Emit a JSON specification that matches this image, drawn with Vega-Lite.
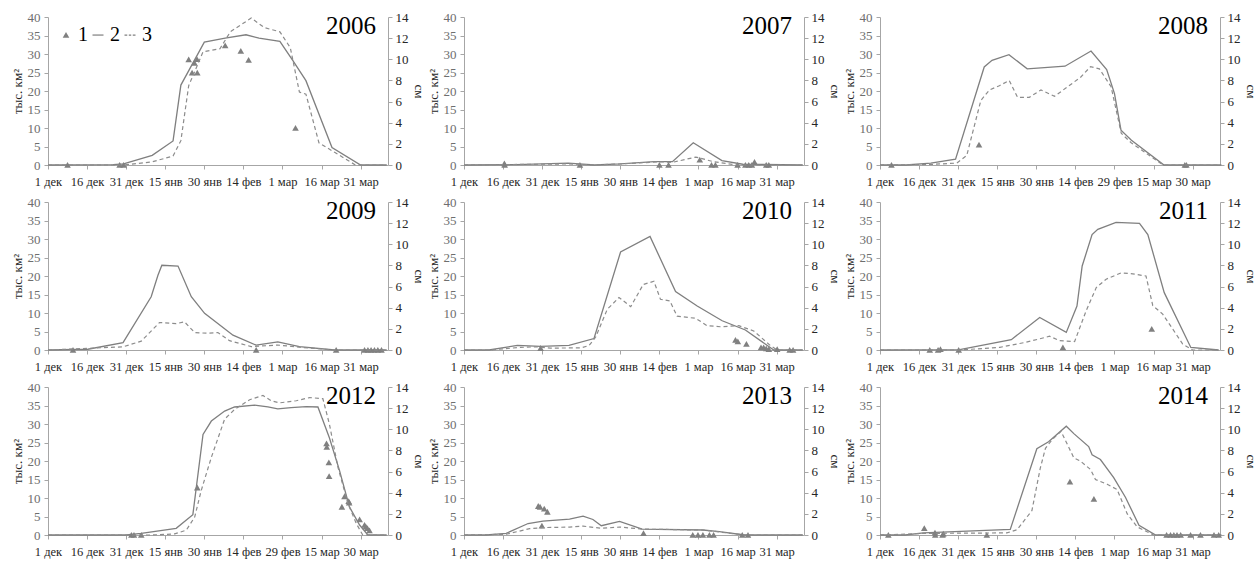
{
"$schema": "https://vega.github.io/schema/vega-lite/v6.json",
"padding": {"left": 11, "top": 11, "right": 5, "bottom": 5},
"background": "white",
"columns": 3,
"spacing": {"row": 37, "column": 76},
"bounds": "flush",
"resolve": {"scale": {"shape": "independent"}, "legend": {"shape": "independent"}},
"config": {
  "view": {"stroke": null},
  "font": "Liberation Serif",
  "style": {"guide-label": {"font": "Liberation Serif"}, "guide-title": {"font": "Liberation Serif"}},
  "axis": {"grid": false, "domainColor": "#a6a6a6", "tickColor": "#a6a6a6", "tickSize": 4, "labelFont": "Liberation Serif", "labelFontSize": 13, "labelColor": "#404040", "titleFont": "Liberation Serif", "titleFontSize": 13, "titleFontWeight": "normal", "titleColor": "#262626", "labelPadding": 4, "titlePadding": 3},
  "title": {"anchor": "end", "frame": "group", "offset": -28, "fontSize": 25, "fontWeight": "normal", "font": "Liberation Serif", "color": "#000000", "dx": -12}
},
"datasets": {"d": [
{"year":2006,"s":"2","day":0,"v":0},{"year":2006,"s":"2","day":25,"v":0.1},{"year":2006,"s":"2","day":29,"v":0.3},{"year":2006,"s":"2","day":40,"v":2.6},{"year":2006,"s":"2","day":48,"v":6.5},{"year":2006,"s":"2","day":51,"v":21.6},{"year":2006,"s":"2","day":60,"v":33.2},{"year":2006,"s":"2","day":68,"v":34.3},{"year":2006,"s":"2","day":76,"v":35.2},{"year":2006,"s":"2","day":81,"v":34.3},{"year":2006,"s":"2","day":89,"v":33.4},{"year":2006,"s":"2","day":94,"v":28.2},{"year":2006,"s":"2","day":99,"v":22.8},{"year":2006,"s":"2","day":109,"v":4.7},{"year":2006,"s":"2","day":120,"v":0},{"year":2006,"s":"2","day":130,"v":0},
{"year":2006,"s":"3","day":0,"v":0},{"year":2006,"s":"3","day":29,"v":0},{"year":2006,"s":"3","day":40,"v":0.3},{"year":2006,"s":"3","day":48,"v":0.85},{"year":2006,"s":"3","day":51,"v":2.3},{"year":2006,"s":"3","day":54,"v":7.5},{"year":2006,"s":"3","day":59.5,"v":10.7},{"year":2006,"s":"3","day":66,"v":11},{"year":2006,"s":"3","day":70,"v":12.6},{"year":2006,"s":"3","day":78,"v":13.9},{"year":2006,"s":"3","day":83,"v":13},{"year":2006,"s":"3","day":89,"v":12.6},{"year":2006,"s":"3","day":93,"v":11.1},{"year":2006,"s":"3","day":96.5,"v":6.9},{"year":2006,"s":"3","day":99,"v":6.7},{"year":2006,"s":"3","day":104,"v":2.1},{"year":2006,"s":"3","day":110,"v":1.2},{"year":2006,"s":"3","day":118,"v":0},{"year":2006,"s":"3","day":130,"v":0},
{"year":2006,"s":"1","day":7.5,"v":0},{"year":2006,"s":"1","day":27.5,"v":0},{"year":2006,"s":"1","day":29,"v":0},{"year":2006,"s":"1","day":54,"v":28.5},{"year":2006,"s":"1","day":55.3,"v":24.9},{"year":2006,"s":"1","day":56.2,"v":27.6},{"year":2006,"s":"1","day":57.2,"v":28.6},{"year":2006,"s":"1","day":57.3,"v":24.9},{"year":2006,"s":"1","day":68,"v":32.3},{"year":2006,"s":"1","day":74,"v":30.8},{"year":2006,"s":"1","day":77,"v":28.4},{"year":2006,"s":"1","day":95,"v":10},
{"year":2007,"s":"2","day":0,"v":0},{"year":2007,"s":"2","day":20,"v":0.1},{"year":2007,"s":"2","day":40,"v":0.5},{"year":2007,"s":"2","day":50,"v":0},{"year":2007,"s":"2","day":60,"v":0.3},{"year":2007,"s":"2","day":73,"v":0.9},{"year":2007,"s":"2","day":80,"v":0.9},{"year":2007,"s":"2","day":88,"v":6},{"year":2007,"s":"2","day":99,"v":1.2},{"year":2007,"s":"2","day":107,"v":0.2},{"year":2007,"s":"2","day":130,"v":0},
{"year":2007,"s":"3","day":0,"v":0},{"year":2007,"s":"3","day":40,"v":0.1},{"year":2007,"s":"3","day":50,"v":0},{"year":2007,"s":"3","day":60,"v":0.1},{"year":2007,"s":"3","day":75,"v":0.3},{"year":2007,"s":"3","day":80,"v":0.25},{"year":2007,"s":"3","day":89,"v":0.75},{"year":2007,"s":"3","day":96,"v":0.3},{"year":2007,"s":"3","day":105,"v":0},{"year":2007,"s":"3","day":130,"v":0},
{"year":2007,"s":"1","day":15.5,"v":0.4},{"year":2007,"s":"1","day":15.6,"v":0},{"year":2007,"s":"1","day":44.5,"v":0},{"year":2007,"s":"1","day":75,"v":0},{"year":2007,"s":"1","day":78.5,"v":0},{"year":2007,"s":"1","day":90.5,"v":1.4},{"year":2007,"s":"1","day":95,"v":0},{"year":2007,"s":"1","day":96.5,"v":0},{"year":2007,"s":"1","day":105,"v":0},{"year":2007,"s":"1","day":108,"v":0},{"year":2007,"s":"1","day":109.3,"v":0},{"year":2007,"s":"1","day":110.5,"v":0},{"year":2007,"s":"1","day":111.5,"v":0.8},{"year":2007,"s":"1","day":116,"v":0},{"year":2007,"s":"1","day":117,"v":0},
{"year":2008,"s":"2","day":0,"v":0},{"year":2008,"s":"2","day":10,"v":0},{"year":2008,"s":"2","day":19.5,"v":0.5},{"year":2008,"s":"2","day":29,"v":1.6},{"year":2008,"s":"2","day":40,"v":26.5},{"year":2008,"s":"2","day":43,"v":28.3},{"year":2008,"s":"2","day":49.5,"v":29.8},{"year":2008,"s":"2","day":56.5,"v":26},{"year":2008,"s":"2","day":71,"v":26.7},{"year":2008,"s":"2","day":81,"v":30.8},{"year":2008,"s":"2","day":87,"v":25.8},{"year":2008,"s":"2","day":90,"v":19.3},{"year":2008,"s":"2","day":92.5,"v":9.4},{"year":2008,"s":"2","day":96.5,"v":6.7},{"year":2008,"s":"2","day":109,"v":0},{"year":2008,"s":"2","day":131,"v":0},
{"year":2008,"s":"3","day":0,"v":0},{"year":2008,"s":"3","day":19,"v":0.05},{"year":2008,"s":"3","day":29.5,"v":0.18},{"year":2008,"s":"3","day":33.3,"v":0.9},{"year":2008,"s":"3","day":38.7,"v":6.1},{"year":2008,"s":"3","day":42,"v":7.1},{"year":2008,"s":"3","day":45.8,"v":7.5},{"year":2008,"s":"3","day":49.6,"v":8.0},{"year":2008,"s":"3","day":52.8,"v":6.4},{"year":2008,"s":"3","day":57.3,"v":6.4},{"year":2008,"s":"3","day":61.8,"v":7.1},{"year":2008,"s":"3","day":67,"v":6.5},{"year":2008,"s":"3","day":72,"v":7.4},{"year":2008,"s":"3","day":77,"v":8.3},{"year":2008,"s":"3","day":80.8,"v":9.3},{"year":2008,"s":"3","day":84.2,"v":9.1},{"year":2008,"s":"3","day":88.7,"v":7.4},{"year":2008,"s":"3","day":92.6,"v":3.0},{"year":2008,"s":"3","day":96.4,"v":2.1},{"year":2008,"s":"3","day":108.6,"v":0},{"year":2008,"s":"3","day":131,"v":0},
{"year":2008,"s":"1","day":4.4,"v":0},{"year":2008,"s":"1","day":38,"v":5.5},{"year":2008,"s":"1","day":117,"v":0},{"year":2008,"s":"1","day":117.6,"v":0},
{"year":2009,"s":"2","day":0,"v":0},{"year":2009,"s":"2","day":15.3,"v":0.2},{"year":2009,"s":"2","day":28.8,"v":2},{"year":2009,"s":"2","day":39.6,"v":14.4},{"year":2009,"s":"2","day":42.2,"v":20.2},{"year":2009,"s":"2","day":43.7,"v":22.9},{"year":2009,"s":"2","day":49.9,"v":22.7},{"year":2009,"s":"2","day":55,"v":14.4},{"year":2009,"s":"2","day":60.1,"v":9.9},{"year":2009,"s":"2","day":71,"v":4},{"year":2009,"s":"2","day":79.9,"v":1.3},{"year":2009,"s":"2","day":88.2,"v":2.2},{"year":2009,"s":"2","day":96.5,"v":0.9},{"year":2009,"s":"2","day":110,"v":0},{"year":2009,"s":"2","day":130,"v":0},
{"year":2009,"s":"3","day":0,"v":0},{"year":2009,"s":"3","day":28.8,"v":0.3},{"year":2009,"s":"3","day":35.8,"v":0.84},{"year":2009,"s":"3","day":42.8,"v":2.6},{"year":2009,"s":"3","day":49.2,"v":2.5},{"year":2009,"s":"3","day":52.4,"v":2.66},{"year":2009,"s":"3","day":56.3,"v":1.65},{"year":2009,"s":"3","day":61.4,"v":1.58},{"year":2009,"s":"3","day":65.2,"v":1.65},{"year":2009,"s":"3","day":69.7,"v":0.88},{"year":2009,"s":"3","day":78,"v":0.32},{"year":2009,"s":"3","day":88.2,"v":0.47},{"year":2009,"s":"3","day":97.2,"v":0.25},{"year":2009,"s":"3","day":110,"v":0},{"year":2009,"s":"3","day":130,"v":0},
{"year":2009,"s":"1","day":9.6,"v":0},{"year":2009,"s":"1","day":79.9,"v":0},{"year":2009,"s":"1","day":110.6,"v":0},{"year":2009,"s":"1","day":121.5,"v":0},{"year":2009,"s":"1","day":122.8,"v":0},{"year":2009,"s":"1","day":124,"v":0},{"year":2009,"s":"1","day":125.3,"v":0},{"year":2009,"s":"1","day":126.6,"v":0},{"year":2009,"s":"1","day":128,"v":0},
{"year":2010,"s":"2","day":0,"v":0},{"year":2010,"s":"2","day":9.6,"v":0},{"year":2010,"s":"2","day":20.5,"v":1.25},{"year":2010,"s":"2","day":29.4,"v":1},{"year":2010,"s":"2","day":40.3,"v":1.25},{"year":2010,"s":"2","day":49.9,"v":3.1},{"year":2010,"s":"2","day":60.1,"v":26.5},{"year":2010,"s":"2","day":71.4,"v":30.7},{"year":2010,"s":"2","day":81.2,"v":15.8},{"year":2010,"s":"2","day":89.5,"v":11.9},{"year":2010,"s":"2","day":99.1,"v":7.9},{"year":2010,"s":"2","day":108,"v":5.4},{"year":2010,"s":"2","day":118.9,"v":0},{"year":2010,"s":"2","day":130,"v":0},
{"year":2010,"s":"3","day":0,"v":0},{"year":2010,"s":"3","day":10,"v":0},{"year":2010,"s":"3","day":21.7,"v":0.25},{"year":2010,"s":"3","day":27.5,"v":0.3},{"year":2010,"s":"3","day":33.2,"v":0.18},{"year":2010,"s":"3","day":45,"v":0.2},{"year":2010,"s":"3","day":48,"v":0.42},{"year":2010,"s":"3","day":50.5,"v":1.2},{"year":2010,"s":"3","day":55,"v":3.85},{"year":2010,"s":"3","day":59.5,"v":4.97},{"year":2010,"s":"3","day":64,"v":4.1},{"year":2010,"s":"3","day":68.8,"v":6.2},{"year":2010,"s":"3","day":72.9,"v":6.5},{"year":2010,"s":"3","day":75.4,"v":4.8},{"year":2010,"s":"3","day":79,"v":4.65},{"year":2010,"s":"3","day":81.8,"v":3.2},{"year":2010,"s":"3","day":88.9,"v":3.0},{"year":2010,"s":"3","day":93.3,"v":2.3},{"year":2010,"s":"3","day":98.4,"v":2.2},{"year":2010,"s":"3","day":105.5,"v":2.3},{"year":2010,"s":"3","day":111.2,"v":1.8},{"year":2010,"s":"3","day":117.6,"v":0.42},{"year":2010,"s":"3","day":120.2,"v":0},{"year":2010,"s":"3","day":130,"v":0},
{"year":2010,"s":"1","day":29.4,"v":0.5},{"year":2010,"s":"1","day":104.2,"v":2.7},{"year":2010,"s":"1","day":105.1,"v":2.3},{"year":2010,"s":"1","day":108.4,"v":1.6},{"year":2010,"s":"1","day":114,"v":0.7},{"year":2010,"s":"1","day":115,"v":0.7},{"year":2010,"s":"1","day":116,"v":0.4},{"year":2010,"s":"1","day":117,"v":0.2},{"year":2010,"s":"1","day":120.2,"v":0.2},{"year":2010,"s":"1","day":125,"v":0},{"year":2010,"s":"1","day":126.3,"v":0},
{"year":2011,"s":"2","day":0,"v":0},{"year":2011,"s":"2","day":30.6,"v":0.1},{"year":2011,"s":"2","day":50.4,"v":2.8},{"year":2011,"s":"2","day":61.3,"v":8.8},{"year":2011,"s":"2","day":71.5,"v":4.75},{"year":2011,"s":"2","day":75.6,"v":11.9},{"year":2011,"s":"2","day":77.6,"v":22.7},{"year":2011,"s":"2","day":81.4,"v":31.2},{"year":2011,"s":"2","day":83.6,"v":32.6},{"year":2011,"s":"2","day":90.6,"v":34.5},{"year":2011,"s":"2","day":99.6,"v":34.2},{"year":2011,"s":"2","day":102.8,"v":31.2},{"year":2011,"s":"2","day":109.1,"v":15.5},{"year":2011,"s":"2","day":119.3,"v":0.7},{"year":2011,"s":"2","day":130,"v":0},
{"year":2011,"s":"3","day":0,"v":0},{"year":2011,"s":"3","day":30.6,"v":0},{"year":2011,"s":"3","day":46,"v":0.25},{"year":2011,"s":"3","day":56.2,"v":0.74},{"year":2011,"s":"3","day":65.1,"v":1.3},{"year":2011,"s":"3","day":68.9,"v":0.88},{"year":2011,"s":"3","day":74.7,"v":0.8},{"year":2011,"s":"3","day":79.1,"v":3.7},{"year":2011,"s":"3","day":83,"v":5.9},{"year":2011,"s":"3","day":86.8,"v":6.7},{"year":2011,"s":"3","day":92.6,"v":7.3},{"year":2011,"s":"3","day":97,"v":7.2},{"year":2011,"s":"3","day":102.1,"v":7.0},{"year":2011,"s":"3","day":104.7,"v":4.2},{"year":2011,"s":"3","day":108.5,"v":3.4},{"year":2011,"s":"3","day":116.2,"v":0.56},{"year":2011,"s":"3","day":120,"v":0},{"year":2011,"s":"3","day":130,"v":0},
{"year":2011,"s":"1","day":19.1,"v":0},{"year":2011,"s":"1","day":22.3,"v":0},{"year":2011,"s":"1","day":23.2,"v":0.2},{"year":2011,"s":"1","day":30.2,"v":0},{"year":2011,"s":"1","day":70.2,"v":0.7},{"year":2011,"s":"1","day":104.3,"v":5.7},
{"year":2012,"s":"2","day":0,"v":0},{"year":2012,"s":"2","day":30,"v":0},{"year":2012,"s":"2","day":35.8,"v":0.45},{"year":2012,"s":"2","day":49.2,"v":1.8},{"year":2012,"s":"2","day":55.6,"v":5.5},{"year":2012,"s":"2","day":59.5,"v":27.2},{"year":2012,"s":"2","day":62.7,"v":30.8},{"year":2012,"s":"2","day":67.8,"v":33.5},{"year":2012,"s":"2","day":71.6,"v":34.6},{"year":2012,"s":"2","day":79.3,"v":35.1},{"year":2012,"s":"2","day":84.4,"v":34.6},{"year":2012,"s":"2","day":88.2,"v":34.1},{"year":2012,"s":"2","day":93.3,"v":34.4},{"year":2012,"s":"2","day":99.1,"v":34.7},{"year":2012,"s":"2","day":103.6,"v":34.6},{"year":2012,"s":"2","day":108,"v":26.3},{"year":2012,"s":"2","day":111.9,"v":17.4},{"year":2012,"s":"2","day":115.7,"v":7.6},{"year":2012,"s":"2","day":119.6,"v":2.7},{"year":2012,"s":"2","day":122.8,"v":0},{"year":2012,"s":"2","day":130,"v":0},
{"year":2012,"s":"3","day":0,"v":0},{"year":2012,"s":"3","day":40,"v":0},{"year":2012,"s":"3","day":48.6,"v":0.1},{"year":2012,"s":"3","day":53.1,"v":0.46},{"year":2012,"s":"3","day":56.3,"v":1.7},{"year":2012,"s":"3","day":58.8,"v":4.2},{"year":2012,"s":"3","day":62.7,"v":7.35},{"year":2012,"s":"3","day":67.8,"v":10.96},{"year":2012,"s":"3","day":71.6,"v":11.87},{"year":2012,"s":"3","day":77.4,"v":12.8},{"year":2012,"s":"3","day":82.5,"v":13.2},{"year":2012,"s":"3","day":85.7,"v":12.7},{"year":2012,"s":"3","day":88.9,"v":12.5},{"year":2012,"s":"3","day":95.3,"v":12.7},{"year":2012,"s":"3","day":100.4,"v":13.0},{"year":2012,"s":"3","day":105.5,"v":12.9},{"year":2012,"s":"3","day":108,"v":10.5},{"year":2012,"s":"3","day":111.3,"v":6.4},{"year":2012,"s":"3","day":115.1,"v":3.0},{"year":2012,"s":"3","day":118.3,"v":1.1},{"year":2012,"s":"3","day":120.8,"v":0},{"year":2012,"s":"3","day":130,"v":0},
{"year":2012,"s":"1","day":32,"v":0},{"year":2012,"s":"1","day":33,"v":0},{"year":2012,"s":"1","day":35.8,"v":0},{"year":2012,"s":"1","day":57.3,"v":12.8},{"year":2012,"s":"1","day":106.9,"v":24.7},{"year":2012,"s":"1","day":107,"v":23.8},{"year":2012,"s":"1","day":107.8,"v":19.6},{"year":2012,"s":"1","day":107.9,"v":15.9},{"year":2012,"s":"1","day":112.8,"v":7.6},{"year":2012,"s":"1","day":113.8,"v":10.4},{"year":2012,"s":"1","day":115.4,"v":9.1},{"year":2012,"s":"1","day":115.6,"v":8.7},{"year":2012,"s":"1","day":119.6,"v":4.2},{"year":2012,"s":"1","day":121.5,"v":2.7},{"year":2012,"s":"1","day":122,"v":2.2},{"year":2012,"s":"1","day":122.6,"v":1.8},{"year":2012,"s":"1","day":123.4,"v":1.2},
{"year":2013,"s":"2","day":0,"v":0},{"year":2013,"s":"2","day":8.6,"v":0},{"year":2013,"s":"2","day":16.2,"v":0.45},{"year":2013,"s":"2","day":24.6,"v":3.1},{"year":2013,"s":"2","day":30.3,"v":3.75},{"year":2013,"s":"2","day":40.5,"v":4.3},{"year":2013,"s":"2","day":45.7,"v":5.1},{"year":2013,"s":"2","day":49.5,"v":4.2},{"year":2013,"s":"2","day":52.7,"v":2.5},{"year":2013,"s":"2","day":59.7,"v":3.7},{"year":2013,"s":"2","day":68.4,"v":1.6},{"year":2013,"s":"2","day":91.7,"v":1.35},{"year":2013,"s":"2","day":98,"v":0.9},{"year":2013,"s":"2","day":107.7,"v":0},{"year":2013,"s":"2","day":130,"v":0},
{"year":2013,"s":"3","day":0,"v":0},{"year":2013,"s":"3","day":16.2,"v":0.07},{"year":2013,"s":"3","day":25.2,"v":0.6},{"year":2013,"s":"3","day":30.3,"v":0.7},{"year":2013,"s":"3","day":40.5,"v":0.75},{"year":2013,"s":"3","day":45.7,"v":0.84},{"year":2013,"s":"3","day":52.7,"v":0.63},{"year":2013,"s":"3","day":59.7,"v":0.75},{"year":2013,"s":"3","day":68.4,"v":0.56},{"year":2013,"s":"3","day":91.7,"v":0.47},{"year":2013,"s":"3","day":107.7,"v":0},{"year":2013,"s":"3","day":130,"v":0},
{"year":2013,"s":"1","day":28.5,"v":7.8},{"year":2013,"s":"1","day":29.2,"v":7.6},{"year":2013,"s":"1","day":30.8,"v":7.1},{"year":2013,"s":"1","day":32,"v":6.25},{"year":2013,"s":"1","day":29.9,"v":2.5},{"year":2013,"s":"1","day":68.9,"v":0.45},{"year":2013,"s":"1","day":87.8,"v":0},{"year":2013,"s":"1","day":89.8,"v":0},{"year":2013,"s":"1","day":91.7,"v":0},{"year":2013,"s":"1","day":94.2,"v":0},{"year":2013,"s":"1","day":95.8,"v":0},{"year":2013,"s":"1","day":106.8,"v":0},{"year":2013,"s":"1","day":109,"v":0},
{"year":2014,"s":"2","day":0,"v":0},{"year":2014,"s":"2","day":9.6,"v":0},{"year":2014,"s":"2","day":16.7,"v":0.6},{"year":2014,"s":"2","day":50,"v":1.5},{"year":2014,"s":"2","day":60.2,"v":23.3},{"year":2014,"s":"2","day":64.7,"v":25.2},{"year":2014,"s":"2","day":71.5,"v":29.4},{"year":2014,"s":"2","day":74.4,"v":27.4},{"year":2014,"s":"2","day":80.1,"v":23.9},{"year":2014,"s":"2","day":81.4,"v":21.7},{"year":2014,"s":"2","day":84.6,"v":20.4},{"year":2014,"s":"2","day":89.7,"v":15.5},{"year":2014,"s":"2","day":94.2,"v":10.2},{"year":2014,"s":"2","day":99.4,"v":2.65},{"year":2014,"s":"2","day":105.8,"v":0},{"year":2014,"s":"2","day":131,"v":0},
{"year":2014,"s":"3","day":0,"v":0},{"year":2014,"s":"3","day":16.7,"v":0.15},{"year":2014,"s":"3","day":48.7,"v":0.2},{"year":2014,"s":"3","day":52.6,"v":0.5},{"year":2014,"s":"3","day":58.3,"v":2.3},{"year":2014,"s":"3","day":61.5,"v":6.3},{"year":2014,"s":"3","day":63.5,"v":8.2},{"year":2014,"s":"3","day":66,"v":9.0},{"year":2014,"s":"3","day":69.5,"v":9.8},{"year":2014,"s":"3","day":74.4,"v":7.3},{"year":2014,"s":"3","day":76.9,"v":7.0},{"year":2014,"s":"3","day":80.8,"v":6.2},{"year":2014,"s":"3","day":82.7,"v":5.25},{"year":2014,"s":"3","day":87.2,"v":4.8},{"year":2014,"s":"3","day":91,"v":4.3},{"year":2014,"s":"3","day":94.9,"v":2.0},{"year":2014,"s":"3","day":98.7,"v":0.77},{"year":2014,"s":"3","day":105,"v":0},{"year":2014,"s":"3","day":131,"v":0},
{"year":2014,"s":"1","day":3.2,"v":0},{"year":2014,"s":"1","day":17,"v":1.8},{"year":2014,"s":"1","day":21.1,"v":0.6},{"year":2014,"s":"1","day":21.2,"v":0},{"year":2014,"s":"1","day":24,"v":0},{"year":2014,"s":"1","day":24.3,"v":0.3},{"year":2014,"s":"1","day":41,"v":0},{"year":2014,"s":"1","day":72.9,"v":14.4},{"year":2014,"s":"1","day":82.1,"v":9.7},{"year":2014,"s":"1","day":110,"v":0},{"year":2014,"s":"1","day":111.5,"v":0},{"year":2014,"s":"1","day":112.8,"v":0},{"year":2014,"s":"1","day":114,"v":0},{"year":2014,"s":"1","day":115.4,"v":0},{"year":2014,"s":"1","day":119.2,"v":0},{"year":2014,"s":"1","day":123,"v":0},{"year":2014,"s":"1","day":128.2,"v":0},{"year":2014,"s":"1","day":130,"v":0}
]},
"concat": [
{"width":340,"height":148,"data":{"name":"d"},"transform":[{"filter":"datum.year==2006"}],"title":{"text":"2006"},
 "encoding":{"x":{"field":"day","type":"quantitative","scale":{"domain":[0,130.5],"nice":false},"axis":{"values":[0,15,30,45,60,75,90,105,120],"title":null,"labelFlush":false,"labelOverlap":false,"labelFont":"Liberation Serif","labelFontSize":12.5,"labelColor":"#262626","labelPadding":6,"tickSize":4,"domainColor":"#a6a6a6","tickColor":"#a6a6a6","grid":false,"labelExpr":"['1 дек','16 дек','31 дек','15 янв','30 янв','14 фев','1 мар','16 мар','31 мар'][round(datum.value/15)]"}}},
 "layer":[
  {"encoding":{"y":{"field":"v","type":"quantitative","scale":{"domain":[0,40]},"axis":{"values":[0,5,10,15,20,25,30,35,40],"labelOverlap":false,"title":"тыс. км²","labelFont":"Liberation Serif","labelFontSize":13,"labelColor":"#6e6e6e","titleFont":"Liberation Serif","titleFontSize":13,"titleFontWeight":"normal","titleColor":"#262626","labelPadding":4,"titlePadding":3,"tickSize":4,"domainColor":"#a6a6a6","tickColor":"#a6a6a6","grid":false}}},
   "layer":[
   {"transform":[{"filter":"datum.s=='2'"}],"mark":{"type":"line","color":"#7f7f7f","strokeWidth":1.3}},
   {"transform":[{"filter":"datum.s=='1'"}],"mark":{"type":"point","filled":true,"opacity":1,"color":"#808080","size":121},"encoding":{"shape":{"field":"s","type":"nominal","scale":{"domain":["1","2","3"],"range":["M0,-0.55L0.6,0.5L-0.6,0.5Z","M-1,-0.1L1,-0.1L1,0.12L-1,0.12Z","M-1,-0.1L-0.5,-0.1L-0.5,0.12L-1,0.12ZM-0.22,-0.1L0.22,-0.1L0.22,0.12L-0.22,0.12ZM0.5,-0.1L1,-0.1L1,0.12L0.5,0.12Z"]},"legend":{"orient":"top-left","direction":"horizontal","offset":8,"title":null,"labelFontSize":20,"labelFont":"Liberation Serif","labelColor":"#000000","symbolSize":121,"symbolFillColor":"#808080","symbolOpacity":1,"columnPadding":0,"labelOffset":2,"padding":0}}}}
  ]},
  {"transform":[{"filter":"datum.s=='3'"}],"mark":{"type":"line","color":"#8c8c8c","strokeWidth":1.2,"strokeDash":[4,3]},"encoding":{"y":{"field":"v","type":"quantitative","scale":{"domain":[0,14]},"axis":{"orient":"right","values":[0,2,4,6,8,10,12,14],"labelOverlap":false,"title":"см","labelFont":"Liberation Serif","labelFontSize":13,"labelColor":"#262626","titleFont":"Liberation Serif","titleFontSize":13,"titleFontWeight":"normal","titleColor":"#262626","labelPadding":3,"titlePadding":3,"tickSize":4,"domainColor":"#a6a6a6","tickColor":"#a6a6a6","grid":false}}}}
 ],
 "resolve":{"scale":{"y":"independent"}}},
{"width":340,"height":148,"data":{"name":"d"},"transform":[{"filter":"datum.year==2007"}],"title":{"text":"2007"},
 "encoding":{"x":{"field":"day","type":"quantitative","scale":{"domain":[0,130.5],"nice":false},"axis":{"values":[0,15,30,45,60,75,90,105,120],"title":null,"labelFlush":false,"labelOverlap":false,"labelFont":"Liberation Serif","labelFontSize":12.5,"labelColor":"#262626","labelPadding":6,"tickSize":4,"domainColor":"#a6a6a6","tickColor":"#a6a6a6","grid":false,"labelExpr":"['1 дек','16 дек','31 дек','15 янв','30 янв','14 фев','1 мар','16 мар','31 мар'][round(datum.value/15)]"}}},
 "layer":[
  {"encoding":{"y":{"field":"v","type":"quantitative","scale":{"domain":[0,40]},"axis":{"values":[0,5,10,15,20,25,30,35,40],"labelOverlap":false,"title":"тыс. км²","labelFont":"Liberation Serif","labelFontSize":13,"labelColor":"#6e6e6e","titleFont":"Liberation Serif","titleFontSize":13,"titleFontWeight":"normal","titleColor":"#262626","labelPadding":4,"titlePadding":3,"tickSize":4,"domainColor":"#a6a6a6","tickColor":"#a6a6a6","grid":false}}},
   "layer":[
   {"transform":[{"filter":"datum.s=='2'"}],"mark":{"type":"line","color":"#7f7f7f","strokeWidth":1.3}},
   {"transform":[{"filter":"datum.s=='1'"}],"mark":{"type":"point","filled":true,"opacity":1,"color":"#808080","size":121,"shape":"M0,-0.55L0.6,0.5L-0.6,0.5Z"}}
  ]},
  {"transform":[{"filter":"datum.s=='3'"}],"mark":{"type":"line","color":"#8c8c8c","strokeWidth":1.2,"strokeDash":[4,3]},"encoding":{"y":{"field":"v","type":"quantitative","scale":{"domain":[0,14]},"axis":{"orient":"right","values":[0,2,4,6,8,10,12,14],"labelOverlap":false,"title":"см","labelFont":"Liberation Serif","labelFontSize":13,"labelColor":"#262626","titleFont":"Liberation Serif","titleFontSize":13,"titleFontWeight":"normal","titleColor":"#262626","labelPadding":3,"titlePadding":3,"tickSize":4,"domainColor":"#a6a6a6","tickColor":"#a6a6a6","grid":false}}}}
 ],
 "resolve":{"scale":{"y":"independent"}}},
{"width":340,"height":148,"data":{"name":"d"},"transform":[{"filter":"datum.year==2008"}],"title":{"text":"2008"},
 "encoding":{"x":{"field":"day","type":"quantitative","scale":{"domain":[0,130.5],"nice":false},"axis":{"values":[0,15,30,45,60,75,90,105,120],"title":null,"labelFlush":false,"labelOverlap":false,"labelFont":"Liberation Serif","labelFontSize":12.5,"labelColor":"#262626","labelPadding":6,"tickSize":4,"domainColor":"#a6a6a6","tickColor":"#a6a6a6","grid":false,"labelExpr":"['1 дек','16 дек','31 дек','15 янв','30 янв','14 фев','29 фев','15 мар','30 мар'][round(datum.value/15)]"}}},
 "layer":[
  {"encoding":{"y":{"field":"v","type":"quantitative","scale":{"domain":[0,40]},"axis":{"values":[0,5,10,15,20,25,30,35,40],"labelOverlap":false,"title":"тыс. км²","labelFont":"Liberation Serif","labelFontSize":13,"labelColor":"#6e6e6e","titleFont":"Liberation Serif","titleFontSize":13,"titleFontWeight":"normal","titleColor":"#262626","labelPadding":4,"titlePadding":3,"tickSize":4,"domainColor":"#a6a6a6","tickColor":"#a6a6a6","grid":false}}},
   "layer":[
   {"transform":[{"filter":"datum.s=='2'"}],"mark":{"type":"line","color":"#7f7f7f","strokeWidth":1.3}},
   {"transform":[{"filter":"datum.s=='1'"}],"mark":{"type":"point","filled":true,"opacity":1,"color":"#808080","size":121,"shape":"M0,-0.55L0.6,0.5L-0.6,0.5Z"}}
  ]},
  {"transform":[{"filter":"datum.s=='3'"}],"mark":{"type":"line","color":"#8c8c8c","strokeWidth":1.2,"strokeDash":[4,3]},"encoding":{"y":{"field":"v","type":"quantitative","scale":{"domain":[0,14]},"axis":{"orient":"right","values":[0,2,4,6,8,10,12,14],"labelOverlap":false,"title":"см","labelFont":"Liberation Serif","labelFontSize":13,"labelColor":"#262626","titleFont":"Liberation Serif","titleFontSize":13,"titleFontWeight":"normal","titleColor":"#262626","labelPadding":3,"titlePadding":3,"tickSize":4,"domainColor":"#a6a6a6","tickColor":"#a6a6a6","grid":false}}}}
 ],
 "resolve":{"scale":{"y":"independent"}}},
{"width":340,"height":148,"data":{"name":"d"},"transform":[{"filter":"datum.year==2009"}],"title":{"text":"2009"},
 "encoding":{"x":{"field":"day","type":"quantitative","scale":{"domain":[0,130.5],"nice":false},"axis":{"values":[0,15,30,45,60,75,90,105,120],"title":null,"labelFlush":false,"labelOverlap":false,"labelFont":"Liberation Serif","labelFontSize":12.5,"labelColor":"#262626","labelPadding":6,"tickSize":4,"domainColor":"#a6a6a6","tickColor":"#a6a6a6","grid":false,"labelExpr":"['1 дек','16 дек','31 дек','15 янв','30 янв','14 фев','1 мар','16 мар','31 мар'][round(datum.value/15)]"}}},
 "layer":[
  {"encoding":{"y":{"field":"v","type":"quantitative","scale":{"domain":[0,40]},"axis":{"values":[0,5,10,15,20,25,30,35,40],"labelOverlap":false,"title":"тыс. км²","labelFont":"Liberation Serif","labelFontSize":13,"labelColor":"#6e6e6e","titleFont":"Liberation Serif","titleFontSize":13,"titleFontWeight":"normal","titleColor":"#262626","labelPadding":4,"titlePadding":3,"tickSize":4,"domainColor":"#a6a6a6","tickColor":"#a6a6a6","grid":false}}},
   "layer":[
   {"transform":[{"filter":"datum.s=='2'"}],"mark":{"type":"line","color":"#7f7f7f","strokeWidth":1.3}},
   {"transform":[{"filter":"datum.s=='1'"}],"mark":{"type":"point","filled":true,"opacity":1,"color":"#808080","size":121,"shape":"M0,-0.55L0.6,0.5L-0.6,0.5Z"}}
  ]},
  {"transform":[{"filter":"datum.s=='3'"}],"mark":{"type":"line","color":"#8c8c8c","strokeWidth":1.2,"strokeDash":[4,3]},"encoding":{"y":{"field":"v","type":"quantitative","scale":{"domain":[0,14]},"axis":{"orient":"right","values":[0,2,4,6,8,10,12,14],"labelOverlap":false,"title":"см","labelFont":"Liberation Serif","labelFontSize":13,"labelColor":"#262626","titleFont":"Liberation Serif","titleFontSize":13,"titleFontWeight":"normal","titleColor":"#262626","labelPadding":3,"titlePadding":3,"tickSize":4,"domainColor":"#a6a6a6","tickColor":"#a6a6a6","grid":false}}}}
 ],
 "resolve":{"scale":{"y":"independent"}}},
{"width":340,"height":148,"data":{"name":"d"},"transform":[{"filter":"datum.year==2010"}],"title":{"text":"2010"},
 "encoding":{"x":{"field":"day","type":"quantitative","scale":{"domain":[0,130.5],"nice":false},"axis":{"values":[0,15,30,45,60,75,90,105,120],"title":null,"labelFlush":false,"labelOverlap":false,"labelFont":"Liberation Serif","labelFontSize":12.5,"labelColor":"#262626","labelPadding":6,"tickSize":4,"domainColor":"#a6a6a6","tickColor":"#a6a6a6","grid":false,"labelExpr":"['1 дек','16 дек','31 дек','15 янв','30 янв','14 фев','1 мар','16 мар','31 мар'][round(datum.value/15)]"}}},
 "layer":[
  {"encoding":{"y":{"field":"v","type":"quantitative","scale":{"domain":[0,40]},"axis":{"values":[0,5,10,15,20,25,30,35,40],"labelOverlap":false,"title":"тыс. км²","labelFont":"Liberation Serif","labelFontSize":13,"labelColor":"#6e6e6e","titleFont":"Liberation Serif","titleFontSize":13,"titleFontWeight":"normal","titleColor":"#262626","labelPadding":4,"titlePadding":3,"tickSize":4,"domainColor":"#a6a6a6","tickColor":"#a6a6a6","grid":false}}},
   "layer":[
   {"transform":[{"filter":"datum.s=='2'"}],"mark":{"type":"line","color":"#7f7f7f","strokeWidth":1.3}},
   {"transform":[{"filter":"datum.s=='1'"}],"mark":{"type":"point","filled":true,"opacity":1,"color":"#808080","size":121,"shape":"M0,-0.55L0.6,0.5L-0.6,0.5Z"}}
  ]},
  {"transform":[{"filter":"datum.s=='3'"}],"mark":{"type":"line","color":"#8c8c8c","strokeWidth":1.2,"strokeDash":[4,3]},"encoding":{"y":{"field":"v","type":"quantitative","scale":{"domain":[0,14]},"axis":{"orient":"right","values":[0,2,4,6,8,10,12,14],"labelOverlap":false,"title":"см","labelFont":"Liberation Serif","labelFontSize":13,"labelColor":"#262626","titleFont":"Liberation Serif","titleFontSize":13,"titleFontWeight":"normal","titleColor":"#262626","labelPadding":3,"titlePadding":3,"tickSize":4,"domainColor":"#a6a6a6","tickColor":"#a6a6a6","grid":false}}}}
 ],
 "resolve":{"scale":{"y":"independent"}}},
{"width":340,"height":148,"data":{"name":"d"},"transform":[{"filter":"datum.year==2011"}],"title":{"text":"2011"},
 "encoding":{"x":{"field":"day","type":"quantitative","scale":{"domain":[0,130.5],"nice":false},"axis":{"values":[0,15,30,45,60,75,90,105,120],"title":null,"labelFlush":false,"labelOverlap":false,"labelFont":"Liberation Serif","labelFontSize":12.5,"labelColor":"#262626","labelPadding":6,"tickSize":4,"domainColor":"#a6a6a6","tickColor":"#a6a6a6","grid":false,"labelExpr":"['1 дек','16 дек','31 дек','15 янв','30 янв','14 фев','1 мар','16 мар','31 мар'][round(datum.value/15)]"}}},
 "layer":[
  {"encoding":{"y":{"field":"v","type":"quantitative","scale":{"domain":[0,40]},"axis":{"values":[0,5,10,15,20,25,30,35,40],"labelOverlap":false,"title":"тыс. км²","labelFont":"Liberation Serif","labelFontSize":13,"labelColor":"#6e6e6e","titleFont":"Liberation Serif","titleFontSize":13,"titleFontWeight":"normal","titleColor":"#262626","labelPadding":4,"titlePadding":3,"tickSize":4,"domainColor":"#a6a6a6","tickColor":"#a6a6a6","grid":false}}},
   "layer":[
   {"transform":[{"filter":"datum.s=='2'"}],"mark":{"type":"line","color":"#7f7f7f","strokeWidth":1.3}},
   {"transform":[{"filter":"datum.s=='1'"}],"mark":{"type":"point","filled":true,"opacity":1,"color":"#808080","size":121,"shape":"M0,-0.55L0.6,0.5L-0.6,0.5Z"}}
  ]},
  {"transform":[{"filter":"datum.s=='3'"}],"mark":{"type":"line","color":"#8c8c8c","strokeWidth":1.2,"strokeDash":[4,3]},"encoding":{"y":{"field":"v","type":"quantitative","scale":{"domain":[0,14]},"axis":{"orient":"right","values":[0,2,4,6,8,10,12,14],"labelOverlap":false,"title":"см","labelFont":"Liberation Serif","labelFontSize":13,"labelColor":"#262626","titleFont":"Liberation Serif","titleFontSize":13,"titleFontWeight":"normal","titleColor":"#262626","labelPadding":3,"titlePadding":3,"tickSize":4,"domainColor":"#a6a6a6","tickColor":"#a6a6a6","grid":false}}}}
 ],
 "resolve":{"scale":{"y":"independent"}}},
{"width":340,"height":148,"data":{"name":"d"},"transform":[{"filter":"datum.year==2012"}],"title":{"text":"2012"},
 "encoding":{"x":{"field":"day","type":"quantitative","scale":{"domain":[0,130.5],"nice":false},"axis":{"values":[0,15,30,45,60,75,90,105,120],"title":null,"labelFlush":false,"labelOverlap":false,"labelFont":"Liberation Serif","labelFontSize":12.5,"labelColor":"#262626","labelPadding":6,"tickSize":4,"domainColor":"#a6a6a6","tickColor":"#a6a6a6","grid":false,"labelExpr":"['1 дек','16 дек','31 дек','15 янв','30 янв','14 фев','29 фев','15 мар','30 мар'][round(datum.value/15)]"}}},
 "layer":[
  {"encoding":{"y":{"field":"v","type":"quantitative","scale":{"domain":[0,40]},"axis":{"values":[0,5,10,15,20,25,30,35,40],"labelOverlap":false,"title":"тыс. км²","labelFont":"Liberation Serif","labelFontSize":13,"labelColor":"#6e6e6e","titleFont":"Liberation Serif","titleFontSize":13,"titleFontWeight":"normal","titleColor":"#262626","labelPadding":4,"titlePadding":3,"tickSize":4,"domainColor":"#a6a6a6","tickColor":"#a6a6a6","grid":false}}},
   "layer":[
   {"transform":[{"filter":"datum.s=='2'"}],"mark":{"type":"line","color":"#7f7f7f","strokeWidth":1.3}},
   {"transform":[{"filter":"datum.s=='1'"}],"mark":{"type":"point","filled":true,"opacity":1,"color":"#808080","size":121,"shape":"M0,-0.55L0.6,0.5L-0.6,0.5Z"}}
  ]},
  {"transform":[{"filter":"datum.s=='3'"}],"mark":{"type":"line","color":"#8c8c8c","strokeWidth":1.2,"strokeDash":[4,3]},"encoding":{"y":{"field":"v","type":"quantitative","scale":{"domain":[0,14]},"axis":{"orient":"right","values":[0,2,4,6,8,10,12,14],"labelOverlap":false,"title":"см","labelFont":"Liberation Serif","labelFontSize":13,"labelColor":"#262626","titleFont":"Liberation Serif","titleFontSize":13,"titleFontWeight":"normal","titleColor":"#262626","labelPadding":3,"titlePadding":3,"tickSize":4,"domainColor":"#a6a6a6","tickColor":"#a6a6a6","grid":false}}}}
 ],
 "resolve":{"scale":{"y":"independent"}}},
{"width":340,"height":148,"data":{"name":"d"},"transform":[{"filter":"datum.year==2013"}],"title":{"text":"2013"},
 "encoding":{"x":{"field":"day","type":"quantitative","scale":{"domain":[0,130.5],"nice":false},"axis":{"values":[0,15,30,45,60,75,90,105,120],"title":null,"labelFlush":false,"labelOverlap":false,"labelFont":"Liberation Serif","labelFontSize":12.5,"labelColor":"#262626","labelPadding":6,"tickSize":4,"domainColor":"#a6a6a6","tickColor":"#a6a6a6","grid":false,"labelExpr":"['1 дек','16 дек','31 дек','15 янв','30 янв','14 фев','1 мар','16 мар','31 мар'][round(datum.value/15)]"}}},
 "layer":[
  {"encoding":{"y":{"field":"v","type":"quantitative","scale":{"domain":[0,40]},"axis":{"values":[0,5,10,15,20,25,30,35,40],"labelOverlap":false,"title":"тыс. км²","labelFont":"Liberation Serif","labelFontSize":13,"labelColor":"#6e6e6e","titleFont":"Liberation Serif","titleFontSize":13,"titleFontWeight":"normal","titleColor":"#262626","labelPadding":4,"titlePadding":3,"tickSize":4,"domainColor":"#a6a6a6","tickColor":"#a6a6a6","grid":false}}},
   "layer":[
   {"transform":[{"filter":"datum.s=='2'"}],"mark":{"type":"line","color":"#7f7f7f","strokeWidth":1.3}},
   {"transform":[{"filter":"datum.s=='1'"}],"mark":{"type":"point","filled":true,"opacity":1,"color":"#808080","size":121,"shape":"M0,-0.55L0.6,0.5L-0.6,0.5Z"}}
  ]},
  {"transform":[{"filter":"datum.s=='3'"}],"mark":{"type":"line","color":"#8c8c8c","strokeWidth":1.2,"strokeDash":[4,3]},"encoding":{"y":{"field":"v","type":"quantitative","scale":{"domain":[0,14]},"axis":{"orient":"right","values":[0,2,4,6,8,10,12,14],"labelOverlap":false,"title":"см","labelFont":"Liberation Serif","labelFontSize":13,"labelColor":"#262626","titleFont":"Liberation Serif","titleFontSize":13,"titleFontWeight":"normal","titleColor":"#262626","labelPadding":3,"titlePadding":3,"tickSize":4,"domainColor":"#a6a6a6","tickColor":"#a6a6a6","grid":false}}}}
 ],
 "resolve":{"scale":{"y":"independent"}}},
{"width":340,"height":148,"data":{"name":"d"},"transform":[{"filter":"datum.year==2014"}],"title":{"text":"2014"},
 "encoding":{"x":{"field":"day","type":"quantitative","scale":{"domain":[0,130.5],"nice":false},"axis":{"values":[0,15,30,45,60,75,90,105,120],"title":null,"labelFlush":false,"labelOverlap":false,"labelFont":"Liberation Serif","labelFontSize":12.5,"labelColor":"#262626","labelPadding":6,"tickSize":4,"domainColor":"#a6a6a6","tickColor":"#a6a6a6","grid":false,"labelExpr":"['1 дек','16 дек','31 дек','15 янв','30 янв','14 фев','1 мар','16 мар','31 мар'][round(datum.value/15)]"}}},
 "layer":[
  {"encoding":{"y":{"field":"v","type":"quantitative","scale":{"domain":[0,40]},"axis":{"values":[0,5,10,15,20,25,30,35,40],"labelOverlap":false,"title":"тыс. км²","labelFont":"Liberation Serif","labelFontSize":13,"labelColor":"#6e6e6e","titleFont":"Liberation Serif","titleFontSize":13,"titleFontWeight":"normal","titleColor":"#262626","labelPadding":4,"titlePadding":3,"tickSize":4,"domainColor":"#a6a6a6","tickColor":"#a6a6a6","grid":false}}},
   "layer":[
   {"transform":[{"filter":"datum.s=='2'"}],"mark":{"type":"line","color":"#7f7f7f","strokeWidth":1.3}},
   {"transform":[{"filter":"datum.s=='1'"}],"mark":{"type":"point","filled":true,"opacity":1,"color":"#808080","size":121,"shape":"M0,-0.55L0.6,0.5L-0.6,0.5Z"}}
  ]},
  {"transform":[{"filter":"datum.s=='3'"}],"mark":{"type":"line","color":"#8c8c8c","strokeWidth":1.2,"strokeDash":[4,3]},"encoding":{"y":{"field":"v","type":"quantitative","scale":{"domain":[0,14]},"axis":{"orient":"right","values":[0,2,4,6,8,10,12,14],"labelOverlap":false,"title":"см","labelFont":"Liberation Serif","labelFontSize":13,"labelColor":"#262626","titleFont":"Liberation Serif","titleFontSize":13,"titleFontWeight":"normal","titleColor":"#262626","labelPadding":3,"titlePadding":3,"tickSize":4,"domainColor":"#a6a6a6","tickColor":"#a6a6a6","grid":false}}}}
 ],
 "resolve":{"scale":{"y":"independent"}}}
]
}
